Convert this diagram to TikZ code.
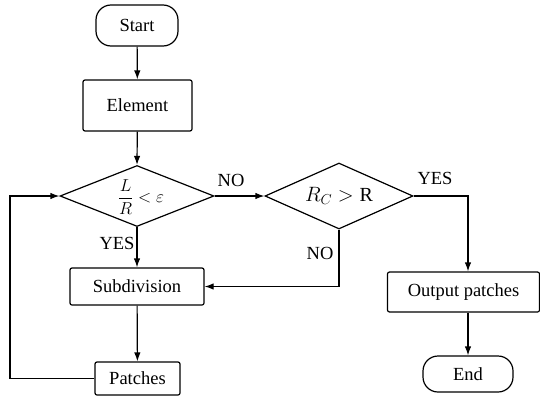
\documentclass[tikz,border=0pt]{standalone}
\usepackage{amsmath}
\usepackage{fontspec}
\setmainfont{Liberation Serif}
\usetikzlibrary{shapes.geometric,arrows.meta,calc}
\begin{document}
\begin{tikzpicture}[x=1pt,y=-1pt,
  every node/.style={font=\fontsize{18.5}{20}\selectfont},
  box/.style={draw,line width=1.2pt,rounded corners=2pt,inner sep=0pt},
  term/.style={draw,line width=1.2pt,rounded corners=15pt,inner sep=0pt},
  dec/.style={draw,line width=1.2pt,diamond,inner sep=0pt},
  mathtxt/.style={inner sep=0pt,font=\fontsize{20}{22}\selectfont},
  conn/.style={line width=1.2pt,-{Latex[length=9pt,width=6.5pt]}},
  lbl/.style={inner sep=0pt}]
\useasboundingbox (0,0) rectangle (540,404);
\node[term,minimum width=82pt,minimum height=41pt] (start) at (137,25.5) {Start};
\node[box,minimum width=109pt,minimum height=51pt] (elem) at (137.5,105.5) {Element};
\node[dec,minimum width=154pt,minimum height=61pt] (d1) at (137,196) {};
\node[mathtxt,font=\fontsize{18}{20}\selectfont] (d1t) at ([xshift=4pt,yshift=-1pt]d1.center) {$\dfrac{L}{R}<\varepsilon$};
\node[dec,minimum width=148pt,minimum height=66pt] (d2) at (339,196) {};
\node[mathtxt] (d2t) at (d2.center) {$R_C>\mathrm{R}$};
\node[box,minimum width=134pt,minimum height=37pt] (sub) at (137,286.5) {Subdivision};
\node[box,minimum width=85pt,minimum height=33pt] (pat) at (137.5,378.5) {Patches};
\node[box,minimum width=152pt,minimum height=40pt] (out) at (463.5,292) {Output patches};
\node[term,minimum width=90pt,minimum height=36pt] (end) at (468,374) {End};
\coordinate (oin) at ([xshift=4.5pt]out.north);
\coordinate (oout) at ([xshift=4.5pt]out.south);
\coordinate (loop) at (10,378.5);
\draw[conn] (start) -- (elem);
\draw[conn] (elem) -- (d1.north);
\draw[conn] (d1.east) -- (d2.west);
\draw[conn] (d1.south) -- (sub.north);
\draw[conn] (d2.south) |- (sub.east);
\draw[conn] (d2.east) -| (oin);
\draw[conn] (oout) -- (end.north);
\draw[conn] (sub) -- (pat);
\draw[conn] (pat.west) -- (loop) |- (d1.west);
\node[lbl] (no1) at (231,180) {NO};
\node[lbl] (yes1) at (117,243) {YES};
\node[lbl] (no2) at (320,253) {NO};
\node[lbl] (yes2) at (435,178) {YES};
\end{tikzpicture}
\end{document}
